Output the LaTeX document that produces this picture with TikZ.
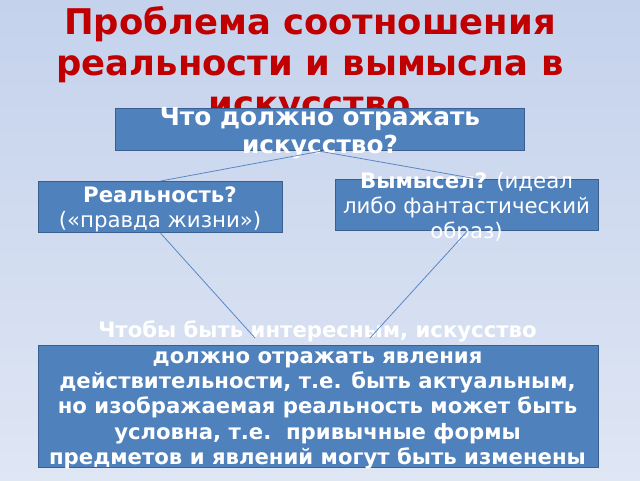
\documentclass[tikz,border=0pt]{standalone}
\usepackage{fontspec}
\setmainfont{DejaVu Sans}
\definecolor{bgtop}{HTML}{C4D2EC}
\definecolor{bgbot}{HTML}{DFE6F4}
\definecolor{boxfill}{HTML}{4F81BD}
\definecolor{boxline}{HTML}{3A5F8E}
\definecolor{titlered}{HTML}{C00000}
\definecolor{linkblue}{HTML}{5B87C4}
\begin{document}
\begin{tikzpicture}[x=1pt,y=-1pt,
  bluebox/.style={draw=boxline,line width=1.3pt,fill=boxfill,inner sep=0pt,anchor=north west},
  boxtext/.style={text=white,align=center,inner sep=0pt,anchor=north},
  link/.style={draw=linkblue,line width=0.8pt},
  titletext/.style={text=titlered,font=\fontsize{35.4}{41}\selectfont\bfseries,inner sep=0pt,anchor=base}]
\node[inner sep=0pt,outer sep=0pt,anchor=north west,minimum width=640pt,minimum height=480pt,
  top color=bgtop,bottom color=bgbot] (bg) at (0,0) {};
\useasboundingbox (0,0) rectangle (640,480);
% title
\node[titletext] (t1) at (310,34) {Проблема соотношения};
\node[titletext] (t2) at (310,75) {реальности и вымысла в};
\node[titletext] (t3) at (310,116) {искусство};
% boxes
\node[bluebox,minimum width=409pt,minimum height=42pt] (top) at (115,108) {};
\node[bluebox,minimum width=244pt,minimum height=51pt] (left) at (38,181) {};
\node[bluebox,minimum width=263pt,minimum height=51pt] (right) at (335,179) {};
\node[bluebox,minimum width=560pt,minimum height=122pt] (bottom) at (38,345) {};
% texts
\node[boxtext,font=\fontsize{24.8}{28}\selectfont\bfseries] (toptext) at (320,107) {Что должно отражать\\искусство?};
\node[boxtext,font=\fontsize{21.3}{25}\selectfont] (lefttext) at (160,186.5) {\textbf{Реальность?}\\(«правда жизни»)};
\node[boxtext,font=\fontsize{21.3}{25}\selectfont] (righttext) at (466.5,171.8) {\textbf{Вымысел?} (идеал\\либо фантастический\\образ)};
\node[boxtext,font=\fontsize{21.2}{25.3}\selectfont\bfseries] (bottomtext) at (317.5,320.9) {Чтобы быть интересным, искусство\\должно отражать явления\\действительности, т.е. быть актуальным,\\но изображаемая реальность может быть\\условна, т.е.\ \ привычные формы\\предметов и явлений могут быть изменены};
% connectors
\coordinate (rtop) at (477,179);
\coordinate (bl) at (255,338);
\coordinate (br) at (370,338);
\draw[link] (top.south) -- (left.north);
\draw[link] (top.south) -- (rtop);
\draw[link] (left.south) -- (bl);
\draw[link] (right.south) -- (br);
\end{tikzpicture}
\end{document}
